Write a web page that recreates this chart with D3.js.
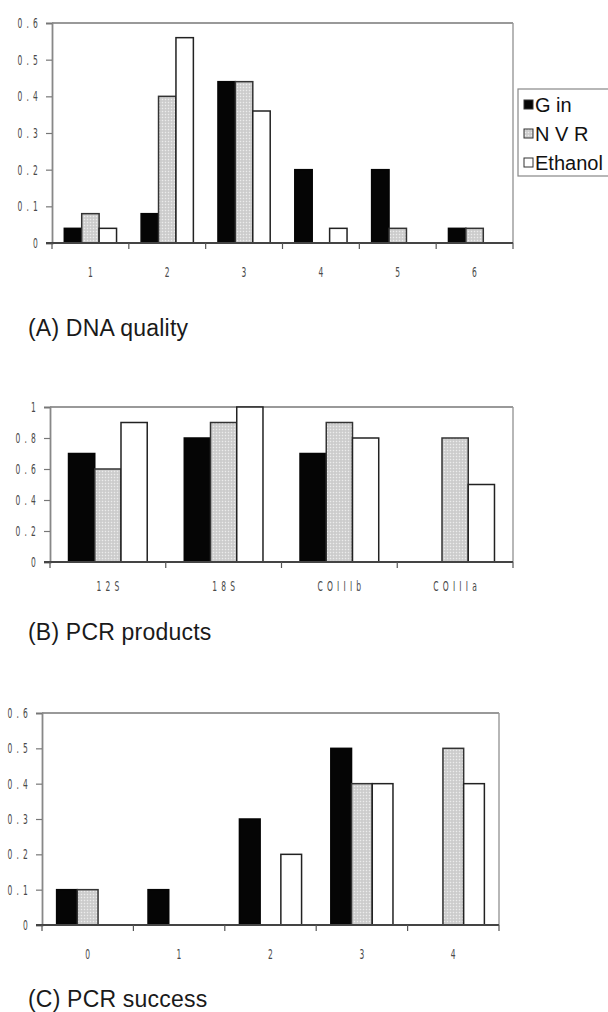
<!DOCTYPE html>
<html>
<head>
<meta charset="utf-8">
<script src="https://cdn.jsdelivr.net/npm/d3@7"></script>
<style>
  html, body { margin: 0; padding: 0; background: #fff; }
  svg { display: block; }
  .tick text, .cat { font-family: "DejaVu Sans Condensed", "Liberation Sans Narrow", "Liberation Sans", sans-serif; font-size: 14px; fill: #4a4a4a; letter-spacing: 7px; }
  .title { font-family: "Liberation Sans", Arial, sans-serif; font-size: 23px; fill: #1a1a1a; letter-spacing: 0.2px; }
  .leg { font-family: "Liberation Sans", Arial, sans-serif; font-size: 20px; fill: #111; }
</style>
</head>
<body>
<svg id="chart" width="608" height="1012"></svg>
<script>
// ---- data ----
const seriesNames = ["G in", "N V R", "Ethanol"];

const catsA = ["1", "2", "3", "4", "5", "6"];
const ginA = [0.04, 0.08, 0.44, 0.20, 0.20, 0.04];
const nvrA = [0.08, 0.40, 0.44, 0.00, 0.04, 0.04];
const ethA = [0.04, 0.56, 0.36, 0.04, 0.00, 0.00];
const ticksA = [0, 0.1, 0.2, 0.3, 0.4, 0.5, 0.6];

const catsB = ["12S", "18S", "COIIIb", "COIIIa"];
const ginB = [0.7, 0.8, 0.7, 0.0];
const nvrB = [0.6, 0.9, 0.9, 0.8];
const ethB = [0.9, 1.0, 0.8, 0.5];
const ticksB = [0, 0.2, 0.4, 0.6, 0.8, 1];

const catsC = ["0", "1", "2", "3", "4"];
const ginC = [0.1, 0.1, 0.3, 0.5, 0.0];
const nvrC = [0.1, 0.0, 0.0, 0.4, 0.5];
const ethC = [0.0, 0.0, 0.2, 0.4, 0.4];
const ticksC = [0, 0.1, 0.2, 0.3, 0.4, 0.5, 0.6];

const titles = ["(A) DNA quality", "(B) PCR products", "(C) PCR success"];

// ---- drawing ----
const SX = 0.6; // horizontal squeeze of the small axis font
const svg = d3.select("#chart");
const defs = svg.append("defs");
const pat = defs.append("pattern").attr("id", "dots")
  .attr("patternUnits", "userSpaceOnUse").attr("width", 3).attr("height", 3);
pat.append("rect").attr("width", 3).attr("height", 3).attr("fill", "#d2d2d2");
pat.append("rect").attr("x", 0).attr("y", 0).attr("width", 1).attr("height", 1).attr("fill", "#ececec");
pat.append("rect").attr("x", 1.5).attr("y", 1.5).attr("width", 1).attr("height", 1).attr("fill", "#bdbdbd");

const fills = ["#050505", "url(#dots)", "#ffffff"];
const strokes = ["#050505", "#333", "#222"];

function panel(o) {
  const g = svg.append("g");
  const x = d3.scaleBand().domain(o.cats).range([o.x0, o.x1]).paddingInner(0.32).paddingOuter(0.16);
  const xs = d3.scaleBand().domain(d3.range(3)).range([0, x.bandwidth()]);
  const y = d3.scaleLinear().domain([0, d3.max(o.ticks)]).range([o.y1, o.y0]);

  // frame top/right
  g.append("line").attr("x1", o.x0).attr("x2", o.x1).attr("y1", o.y0).attr("y2", o.y0)
    .attr("stroke", "#777").attr("stroke-width", 1.6);
  g.append("line").attr("x1", o.x1).attr("x2", o.x1).attr("y1", o.y0).attr("y2", o.y1)
    .attr("stroke", "#999").attr("stroke-width", 1.4);

  // y axis
  const ya = g.append("g").attr("transform", `translate(${o.x0},0)`)
    .call(d3.axisLeft(y).tickValues(o.ticks).tickSize(6).tickPadding(10).tickFormat(d3.format("")));
  ya.select(".domain").attr("stroke", "#888").attr("stroke-width", 1.8);
  ya.selectAll(".tick line").attr("stroke", "#777").attr("stroke-width", 1.2);
  ya.selectAll(".tick text")
    .attr("x", -10 / SX)
    .attr("transform", `scale(${SX},1)`);

  // bars
  const series = [o.gin, o.nvr, o.eth];
  const data = [];
  o.cats.forEach((c, i) => series.forEach((s, k) => { if (s[i] > 0) data.push({ c, k, v: s[i] }); }));
  g.selectAll("rect.bar").data(data).join("rect").attr("class", "bar")
    .attr("x", d => x(d.c) + xs(d.k))
    .attr("y", d => y(d.v))
    .attr("width", xs.bandwidth())
    .attr("height", d => y(0) - y(d.v))
    .attr("fill", d => fills[d.k])
    .attr("stroke", d => strokes[d.k])
    .attr("stroke-width", 1.5);

  // x baseline and boundary ticks
  g.append("line").attr("x1", o.x0 - 6).attr("x2", o.x1).attr("y1", y(0)).attr("y2", y(0))
    .attr("stroke", "#444").attr("stroke-width", 1.8);
  const step = x.step();
  const bounds = d3.range(o.cats.length + 1).map(i => o.x0 + i * step);
  g.selectAll("line.bt").data(bounds).join("line").attr("class", "bt")
    .attr("x1", d => d).attr("x2", d => d).attr("y1", y(0)).attr("y2", y(0) + 6)
    .attr("stroke", "#555").attr("stroke-width", 1.2);
  g.selectAll("g.catg").data(o.cats).join("g").attr("class", "catg")
    .attr("transform", d => `translate(${x(d) + x.bandwidth() / 2 + 2},${o.labY})`)
    .append("text").attr("class", "cat")
    .attr("transform", `scale(${SX},1)`)
    .attr("text-anchor", "middle").attr("dominant-baseline", "middle")
    .text(d => d);

  // title
  g.append("text").attr("class", "title").attr("x", 28).attr("y", o.titleY).text(o.title);
}

panel({ cats: catsA, gin: ginA, nvr: nvrA, eth: ethA, ticks: ticksA,
  x0: 52, x1: 513, y0: 23, y1: 243, labY: 273, titleY: 336, title: titles[0] });
panel({ cats: catsB, gin: ginB, nvr: nvrB, eth: ethB, ticks: ticksB,
  x0: 50, x1: 513, y0: 407, y1: 562, labY: 587, titleY: 640, title: titles[1] });
panel({ cats: catsC, gin: ginC, nvr: nvrC, eth: ethC, ticks: ticksC,
  x0: 42, x1: 499, y0: 713, y1: 925, labY: 955, titleY: 1007, title: titles[2] });

// legend (panel A)
const lg = svg.append("g");
lg.append("rect").attr("x", 518).attr("y", 89).attr("width", 120).attr("height", 87)
  .attr("fill", "#fff").attr("stroke", "#888").attr("stroke-width", 1.2);
seriesNames.forEach((n, k) => {
  const cy = 105 + k * 29;
  lg.append("rect").attr("x", 524).attr("y", cy - 5).attr("width", 9).attr("height", 9)
    .attr("fill", fills[k]).attr("stroke", "#333").attr("stroke-width", 1);
  lg.append("text").attr("class", "leg").attr("x", 535).attr("y", cy + 7).text(n);
});
</script>
</body>
</html>
